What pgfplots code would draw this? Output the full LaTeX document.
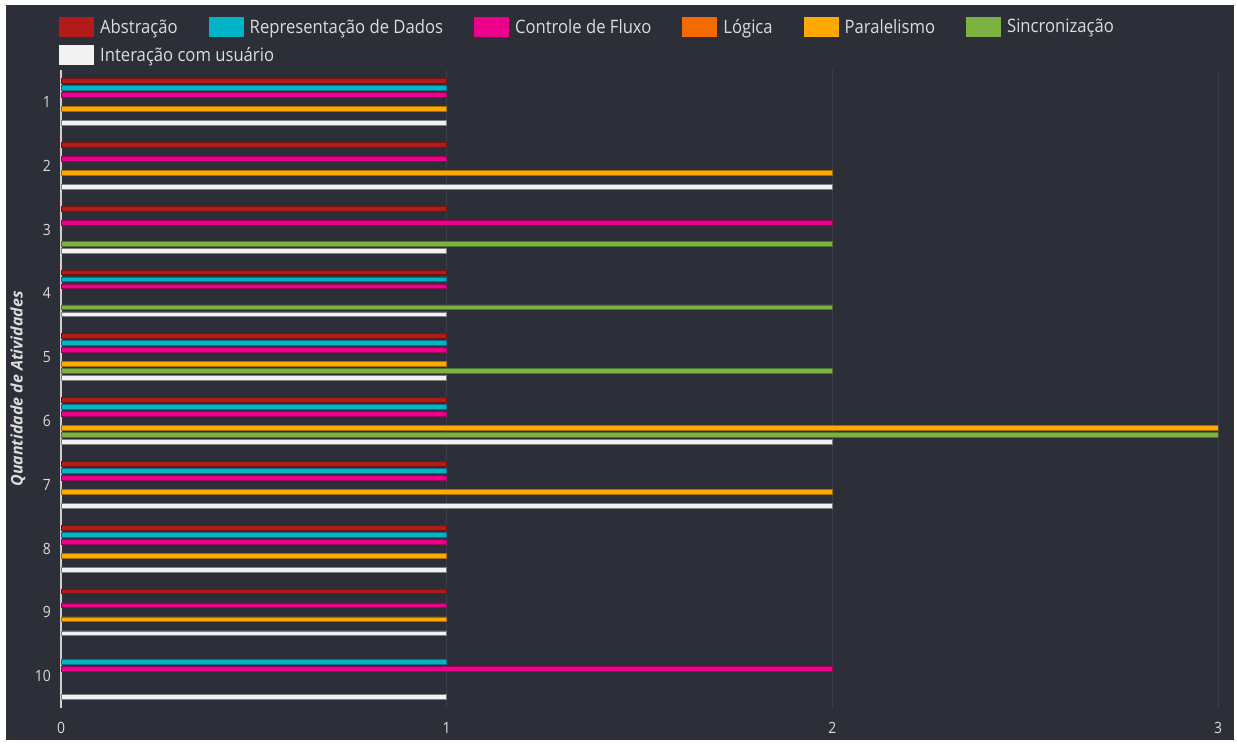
\documentclass[border=0pt]{standalone}
\usepackage{fontspec}
\setmainfont{Open Sans}[FakeStretch=0.9]
\newfontfamily\lblfont{Open Sans}
\usepackage{pgfplots}
\pgfplotsset{compat=1.18}
\definecolor{bgdark}{HTML}{2D2F38}
\definecolor{gridc}{HTML}{3C3F49}
\definecolor{txt}{HTML}{DCDCDC}
\definecolor{axc}{HTML}{D0D0D0}
\definecolor{cabs}{HTML}{B31B1B}
\definecolor{crep}{HTML}{00B4C8}
\definecolor{cctl}{HTML}{EC008C}
\definecolor{clog}{HTML}{F26A00}
\definecolor{cpar}{HTML}{FFA800}
\definecolor{csin}{HTML}{7BB241}
\definecolor{cint}{HTML}{F2F2F2}
\begin{document}
\begin{tikzpicture}
\fill[white] (0,0) rectangle (1237pt,744pt);
\fill[bgdark] (6pt,4pt) rectangle (1234pt,739pt);
\begin{axis}[
  at={(61pt,36pt)}, anchor=south west,
  scale only axis, width=1157pt, height=638pt,
  xbar, bar width=4.8pt,
  y dir=reverse,
  xmin=0, xmax=3, ymin=0.5, ymax=10.5,
  xtick={0,1,2,3}, ytick={1,...,10},
  major tick length=0pt,
  /pgf/number format/assume math mode=true,
  xmajorgrids, grid style={gridc, line width=1pt},
  axis lines*=left, axis line style={-},
  x axis line style={draw=none},
  y axis line style={draw=axc, line width=1.3pt},
  tick label style={text=txt, font=\fontsize{15.5}{18}\selectfont},
  yticklabel style={inner sep=0pt, anchor=east, xshift=-10pt},
  xticklabel style={inner sep=0pt, anchor=north, yshift=-14pt},
  ylabel={Quantidade de Atividades},
  every axis y label/.style={at={(rel axis cs:0,0.5)}, xshift=-43pt, rotate=90, anchor=center, text=txt, font=\lblfont\fontsize{16}{18}\selectfont\bfseries\itshape},
  legend columns=6,
  legend cell align=left,
  legend image code/.code={\fill[#1,draw=none] (0pt,-10pt) rectangle (35pt,10pt);},
  legend style={at={(rel axis cs:0,1)}, anchor=south west, xshift=-2pt, yshift=5pt,
    draw=none, fill=none, text=txt, inner sep=0pt, row sep=8pt,
    font=\fontsize{18.5}{20}\selectfont,
    nodes={inner sep=1pt},
    /tikz/every odd column/.append style={column sep=5pt},
    /tikz/every even column/.append style={column sep=30pt}},
]
\addplot[fill=cabs, draw=cabs!65!black, line width=0.8pt, bar shift=21pt] coordinates {
(1,1) (1,2) (1,3) (1,4) (1,5) (1,6) (1,7) (1,8) (1,9)};
\addlegendentry{Abstração}
\addplot[fill=crep, draw=crep!65!black, line width=0.8pt, bar shift=14pt] coordinates {
(1,1) (1,4) (1,5) (1,6) (1,7) (1,8) (1,10)};
\addlegendentry{Representação de Dados}
\addplot[fill=cctl, draw=cctl!65!black, line width=0.8pt, bar shift=7pt] coordinates {
(1,1) (1,2) (2,3) (1,4) (1,5) (1,6) (1,7) (1,8) (1,9) (2,10)};
\addlegendentry{Controle de Fluxo}
\addlegendimage{fill=clog, draw=none}
\addlegendentry{Lógica}
\addplot[fill=cpar, draw=cpar!65!black, line width=0.8pt, bar shift=-7pt] coordinates {
(1,1) (2,2) (1,5) (3,6) (2,7) (1,8) (1,9)};
\addlegendentry{Paralelismo}
\addplot[fill=csin, draw=csin!65!black, line width=0.8pt, bar shift=-14pt] coordinates {
(2,3) (2,4) (2,5) (3,6)};
\addlegendentry{Sincronização}
\addplot[fill=cint, draw=gray, line width=0.8pt, bar shift=-21pt] coordinates {
(1,1) (2,2) (1,3) (1,4) (1,5) (2,6) (2,7) (1,8) (1,9) (1,10)};
\addlegendentry{\makebox[0pt][l]{Interação com usuário}}
\end{axis}
\end{tikzpicture}
\end{document}
